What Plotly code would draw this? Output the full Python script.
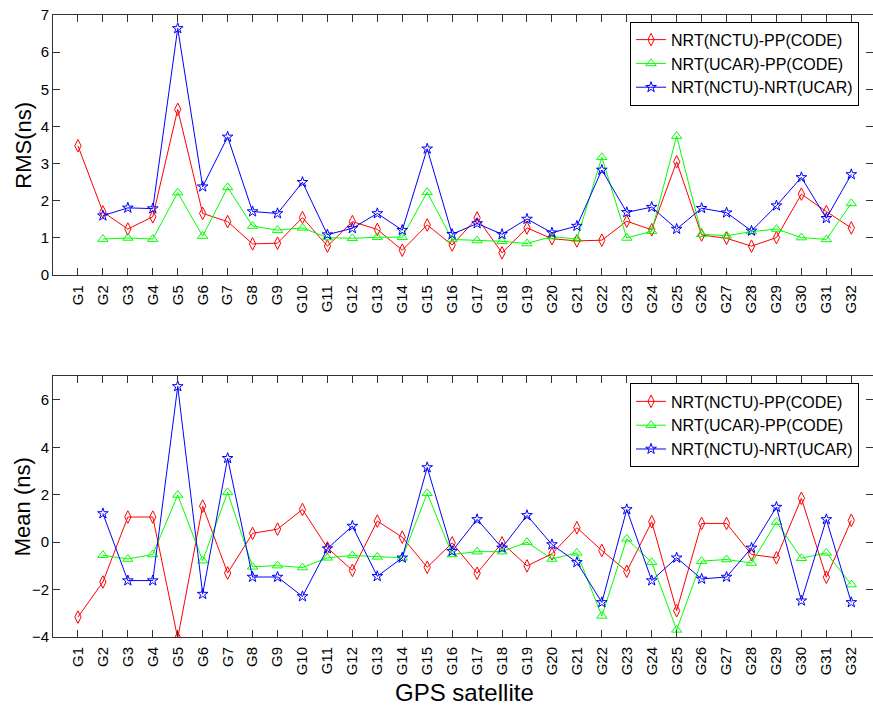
import plotly.graph_objects as go

sats = [f"G{i}" for i in range(1, 33)]
xpos = list(range(1, 33))

rms_nctu_pp = [3.48, 1.70, 1.24, 1.57, 4.46, 1.66, 1.44, 0.84, 0.86, 1.55,
               0.78, 1.44, 1.23, 0.67, 1.35, 0.81, 1.54, 0.60, 1.27, 0.98,
               0.92, 0.94, 1.45, 1.22, 3.05, 1.08, 0.99, 0.78, 1.01, 2.18,
               1.71, 1.27]
rms_ucar_pp = [None, 0.97, 1.00, 0.97, 2.22, 1.05, 2.36, 1.32, 1.21, 1.27,
               1.01, 0.99, 1.02, 1.02, 2.23, 0.96, 0.93, 0.91, 0.85, 1.04,
               0.97, 3.17, 1.00, 1.18, 3.74, 1.10, 1.06, 1.17, 1.24, 1.01,
               0.96, 1.93]
rms_nctu_ucar = [None, 1.60, 1.81, 1.79, 6.64, 2.38, 3.72, 1.71, 1.66, 2.50,
                 1.09, 1.26, 1.66, 1.21, 3.40, 1.10, 1.39, 1.10, 1.51, 1.14,
                 1.32, 2.83, 1.69, 1.83, 1.24, 1.80, 1.68, 1.19, 1.87, 2.63,
                 1.53, 2.71]

mean_nctu_pp = [-3.16, -1.68, 1.06, 1.06, -4.05, 1.52, -1.30, 0.37, 0.55, 1.38,
                -0.24, -1.19, 0.89, 0.21, -1.06, -0.03, -1.31, -0.03, -1.00, -0.49,
                0.61, -0.35, -1.23, 0.86, -2.89, 0.79, 0.79, -0.52, -0.66, 1.85,
                -1.48, 0.92]
mean_ucar_pp = [None, -0.55, -0.71, -0.52, 1.99, -0.78, 2.10, -1.04, -0.99, -1.07,
                -0.66, -0.56, -0.62, -0.66, 2.06, -0.52, -0.40, -0.40, 0.00, -0.71,
                -0.45, -3.11, 0.14, -0.85, -3.70, -0.80, -0.73, -0.88, 0.85, -0.68,
                -0.45, -1.79]
mean_nctu_ucar = [None, 1.21, -1.62, -1.62, 6.57, -2.19, 3.54, -1.47, -1.47, -2.29,
                  -0.27, 0.68, -1.44, -0.66, 3.15, -0.38, 0.96, -0.24, 1.13, -0.10,
                  -0.85, -2.54, 1.38, -1.62, -0.66, -1.55, -1.47, -0.24, 1.48, -2.47,
                  0.96, -2.54]

names = ["NRT(NCTU)-PP(CODE)", "NRT(UCAR)-PP(CODE)", "NRT(NCTU)-NRT(UCAR)"]
colors = ["#ff0000", "#00ff00", "#0000ff"]
symbols = ["diamond-tall-open", "triangle-up-open", "star-open"]
msizes = [9, 9, 8]

FONT = "Liberation Sans, Arial, sans-serif"

fig = go.Figure()
top = [rms_nctu_pp, rms_ucar_pp, rms_nctu_ucar]
bot = [mean_nctu_pp, mean_ucar_pp, mean_nctu_ucar]
for i in range(3):
    fig.add_trace(go.Scatter(
        x=xpos, y=top[i], name=names[i], mode="lines+markers",
        line=dict(color=colors[i], width=1),
        marker=dict(symbol=symbols[i], size=msizes[i], color=colors[i],
                    line=dict(width=1, color=colors[i])),
        xaxis="x", yaxis="y", legend="legend", connectgaps=False))
for i in range(3):
    fig.add_trace(go.Scatter(
        x=xpos, y=bot[i], name=names[i], mode="lines+markers",
        line=dict(color=colors[i], width=1),
        marker=dict(symbol=symbols[i], size=msizes[i], color=colors[i],
                    line=dict(width=1, color=colors[i])),
        xaxis="x2", yaxis="y2", legend="legend2", connectgaps=False))

W, H = 873, 710
L, R, T, B = 53, 0, 15, 73
xrange = [0, 32.87]

axis_common = dict(showline=True, linecolor="#333333", linewidth=1,
                   mirror="ticks", ticks="inside", ticklen=7, tickcolor="#333333",
                   showgrid=False, zeroline=False,
                   tickfont=dict(family=FONT, size=15, color="#000000"))

fig.update_layout(
    width=W, height=H,
    margin=dict(l=L, r=R, t=T, b=B, pad=0),
    paper_bgcolor="white", plot_bgcolor="white",
    font=dict(family=FONT, size=15, color="#000000"),
    xaxis=dict(domain=[0, 1], range=xrange, anchor="y",
               tickmode="array", tickvals=xpos, ticktext=sats, tickangle=-90,
               ticklabelstandoff=3, **axis_common),
    yaxis=dict(domain=[0.5818, 1], range=[0, 7], anchor="x",
               tickmode="array", tickvals=list(range(0, 8)),
               **axis_common),
    xaxis2=dict(domain=[0, 1], range=xrange, anchor="y2",
                tickmode="array", tickvals=xpos, ticktext=sats, tickangle=-90,
                ticklabelstandoff=3, **axis_common),
    yaxis2=dict(domain=[0, 0.4193], range=[-4, 7], anchor="x2",
                tickmode="array", tickvals=[-4, -2, 0, 2, 4, 6],
                **axis_common),
    legend=dict(x=0.983, xanchor="right", y=0.9892, yanchor="top",
                bgcolor="white", bordercolor="#000000", borderwidth=1,
                font=dict(family=FONT, size=16, color="#000000"),
                tracegroupgap=0, itemwidth=30),
    legend2=dict(x=0.983, xanchor="right", y=0.4076, yanchor="top",
                 bgcolor="white", bordercolor="#000000", borderwidth=1,
                 font=dict(family=FONT, size=16, color="#000000"),
                 tracegroupgap=0, itemwidth=30),
    showlegend=True,
    annotations=[
        dict(text="RMS(ns)", xref="paper", yref="paper", x=-0.037, y=(1 + 0.5818) / 2,
             textangle=-90, showarrow=False, xanchor="center", yanchor="middle",
             font=dict(family=FONT, size=22, color="#000000")),
        dict(text="Mean (ns)", xref="paper", yref="paper", x=-0.037, y=0.4193 / 2,
             textangle=-90, showarrow=False, xanchor="center", yanchor="middle",
             font=dict(family=FONT, size=22, color="#000000")),
        dict(text="GPS satellite", xref="paper", yref="paper", x=(464.6 - L) / (W - L - R),
             y=-(692 - 637) / (H - T - B), showarrow=False, xanchor="center", yanchor="middle",
             font=dict(family=FONT, size=24, color="#000000")),
    ],
)

fig.write_html("out.html", config={"displayModeBar": False},
               post_script="document.body.style.margin='0';")
